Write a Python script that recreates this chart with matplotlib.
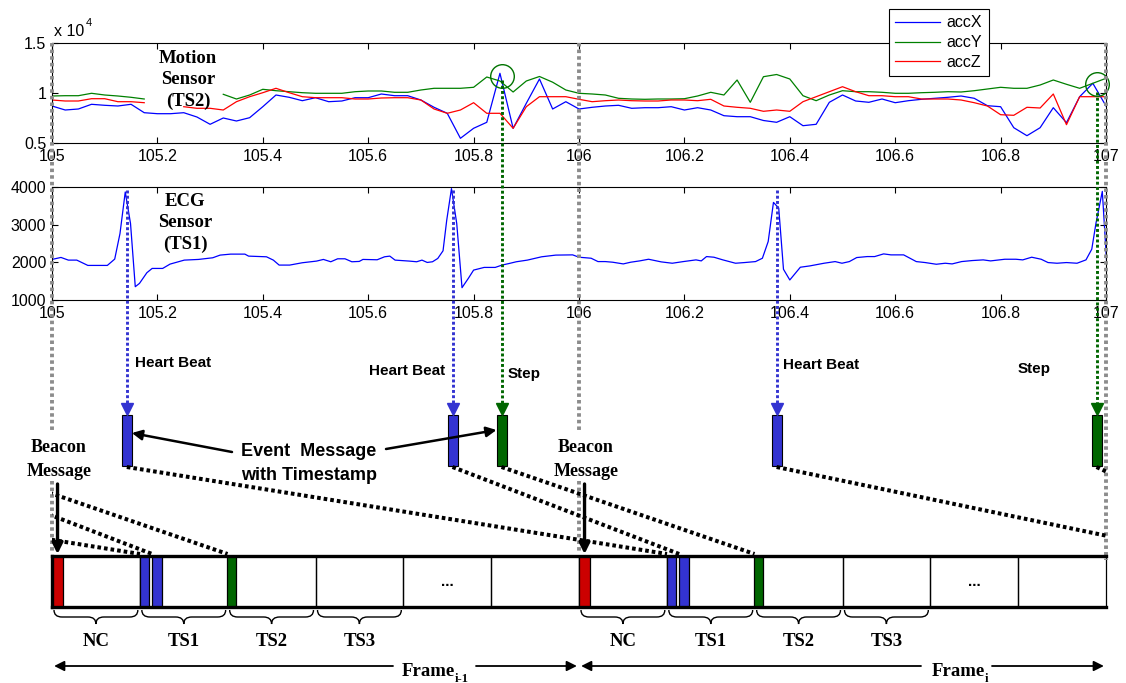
import numpy as np
import matplotlib
matplotlib.use("Agg")
import matplotlib.pyplot as plt
from matplotlib.patches import Rectangle, PathPatch
from matplotlib.path import Path

plt.rcParams['font.family'] = ['Liberation Sans', 'DejaVu Sans']

# ---------------- data ----------------
# accelerometer, one sample every 25 ms from 105 s
t_acc = 105 + 0.025 * np.arange(81)
nan = np.nan
acc_x = [8700, 8300, 8400, 8870, 8770, 8700, 8870, 8030, 7930, 7930,
         8030, 7600, 6870, 7500, 7200, 7530, 8630, 9800, 9570, 9230,
         9530, 9130, 9200, 9530, 9530, 9900, 9730, 9730, 9300, 8570,
         7970, 5470, 6470, 7070, 11970, 6470, 8970, 11400, 8400, 9130,
         8400, 8570, 8700, 8770, 8470, 8530, 8530, 8630, 8300, 8530,
         8300, 7730, 7630, 7630, 7250, 7070, 7630, 6730, 6870, 9070,
         9800, 9200, 9070, 9400, 9030, 9230, 9370, 9470, 9570, 9700,
         9470, 8730, 8630, 6530, 5730, 6530, 8530, 7030, 9630, 10970,
         8700]
acc_y = [9700, 9730, 9730, 9970, 9800, 9700, 9570, 9400, nan, nan,
         nan, nan, nan, 9870, 9400, 9800, 10370, 10230, 10130, 10030,
         9970, 9970, 9970, 10130, 10200, 10200, 10070, 10070, 10300, 10470,
         10470, 10470, 10570, 11600, 11200, 10100, 11200, 11650, 11080, 10300,
         9970, 9900, 9800, 9470, 9400, 9370, 9400, 9400, 9430, 9700,
         10070, 9800, 11300, 9070, 11630, 11850, 11400, 9730, 9230, 9800,
         10230, 10130, 10130, 10070, 9970, 9970, 10030, 10070, 10130, 10100,
         10230, 10400, 10570, 10470, 10470, 10800, 11300, 10870, 10470, 10970,
         11470]
acc_z = [9300, 9200, 9200, 9430, 9430, 9130, 9130, 9030, nan, nan,
         8630, 8470, 8470, 8300, 9130, 9630, 10030, 10470, 10030, 9630,
         9530, 9530, 9530, 9400, 9400, 9500, 9530, 9530, 9300, 8400,
         7970, 8300, 9030, 7970, 7970, 6470, 8630, 9630, 9630, 9630,
         9370, 9130, 9230, 9300, 9230, 9200, 9200, 9300, 9300, 9230,
         9370, 8700, 8570, 8470, 8170, 8300, 8170, 9130, 9630, 10130,
         10630, 10130, 9730, 9730, 9630, 9630, 9400, 9400, 9400, 9300,
         9030, 8700, 7830, 7770, 8570, 8500, 9900, 6830, 9630, 9630,
         9630]

# ECG trace (vertices)
ecg_t = [105.000, 105.017, 105.031, 105.047, 105.068, 105.105, 105.119, 105.129, 105.139, 105.149,
         105.158, 105.166, 105.180, 105.190, 105.210, 105.224, 105.251, 105.278, 105.305, 105.319,
         105.339, 105.366, 105.373, 105.407, 105.420, 105.431, 105.451, 105.475, 105.502, 105.515,
         105.529, 105.542, 105.556, 105.569, 105.583, 105.590, 105.617, 105.631, 105.641, 105.651,
         105.678, 105.692, 105.702, 105.712, 105.722, 105.732, 105.742, 105.749, 105.758, 105.768,
         105.778, 105.790, 105.800, 105.820, 105.841, 105.854, 105.868, 105.881, 105.902, 105.929,
         105.956, 105.988, 106.000, 106.023, 106.036, 106.050, 106.064, 106.084, 106.098, 106.115,
         106.132, 106.156, 106.177, 106.198, 106.222, 106.232, 106.242, 106.256, 106.273, 106.297,
         106.314, 106.335, 106.348, 106.359, 106.369, 106.379, 106.388, 106.400, 106.420, 106.438,
         106.465, 106.486, 106.499, 106.513, 106.527, 106.547, 106.561, 106.578, 106.592, 106.616,
         106.640, 106.657, 106.678, 106.695, 106.708, 106.726, 106.746, 106.767, 106.781, 106.808,
         106.829, 106.842, 106.859, 106.877, 106.890, 106.907, 106.925, 106.945, 106.962, 106.973,
         106.981, 106.993, 107.001]
ecg_v = [2077, 2130, 2059, 2059, 1918, 1918, 2086, 2765, 3868, 3030,
         1353, 1441, 1724, 1838, 1838, 1953, 2059, 2077, 2121, 2192,
         2218, 2218, 2165, 2147, 2059, 1927, 1927, 1989, 2033, 2077,
         2015, 2094, 2094, 2015, 2024, 2077, 2068, 2147, 2165, 2059,
         2033, 2015, 2059, 1997, 2015, 2103, 2306, 3118, 3957, 3030,
         1327, 1574, 1794, 1865, 1865, 1927, 1971, 2015, 2059, 2147,
         2192, 2198, 2136, 2109, 2020, 2020, 2003, 1958, 2003, 2038,
         2082, 2012, 1976, 2020, 2065, 2038, 2153, 2136, 2065, 1976,
         1994, 2020, 2109, 2553, 3591, 3440, 1816, 1532, 1870, 1905,
         1976, 2020, 1976, 2020, 2127, 2153, 2153, 2224, 2198, 2198,
         2020, 1994, 1949, 1976, 1958, 2020, 2047, 2065, 2038, 2082,
         2082, 2065, 2136, 2082, 1994, 1976, 1994, 1976, 2065, 2349,
         3041, 3884, 2065]

xticks = [105, 105.2, 105.4, 105.6, 105.8, 106, 106.2, 106.4, 106.6, 106.8, 107]
xticklabels = ['105', '105.2', '105.4', '105.6', '105.8', '106',
               '106.2', '106.4', '106.6', '106.8', '107']

# detected events
heartbeat_t = [105.142, 105.760, 106.375]
step_t = [105.853, 106.982]
step_peak = [11700, 10900]

# TDMA frames: 1 s long, 6 slots
frame_t = [105, 106]
n_slots = 6
slot_names = ['NC', 'TS1', 'TS2', 'TS3']
frame_labels = ['i-1', 'i']
beacon_slot = (0.0, 0.021)               # offset in frame, width
hb_slots = [(0.167, 0.017), (0.190, 0.018)]
step_slot = (0.333, 0.017)
# event message -> slot in next frame
links = [(104.142, 105.167), (104.760, 105.190), (104.853, 105.333),
         (105.142, 106.167), (105.760, 106.190), (105.853, 106.333),
         (106.375, 107.167), (106.982, 107.333)]

# ---------------- figure ----------------
W, H = 1126, 683
fig = plt.figure(figsize=(W / 100, H / 100), dpi=100)

BLUE = (0.2, 0.2, 0.82)
DGREEN = (0.0, 0.4, 0.0)
GREY = (0.55, 0.55, 0.55)
SERIF = 'Liberation Serif'


def px_axes(x0, y0, x1, y1):
    return fig.add_axes([x0 / W, 1 - y1 / H, (x1 - x0) / W, (y1 - y0) / H])


def matlab_style(ax):
    ax.set_xlim(105, 107)
    ax.set_xticks(xticks)
    ax.set_xticklabels(xticklabels)
    ax.tick_params(direction='in', length=4, width=0.8, top=True, right=True,
                   labelsize=11.5, pad=4)
    for s in ax.spines.values():
        s.set_linewidth(0.8)


ax1 = px_axes(52, 43, 1106, 143)
ax1.plot(t_acc, acc_x, color='b', lw=0.9, label='accX')
ax1.plot(t_acc, acc_y, color=(0, 0.5, 0), lw=0.9, label='accY')
ax1.plot(t_acc, acc_z, color='r', lw=0.9, label='accZ')
ax1.plot(step_t, step_peak, 'o', ms=17, mfc='none', mec=(0, 0.45, 0), mew=1, clip_on=False)
ax1.set_ylim(5000, 15000)
ax1.set_yticks([5000, 10000, 15000])
ax1.set_yticklabels(['0.5', '1', '1.5'])
matlab_style(ax1)
leg = ax1.legend(loc='upper left', bbox_to_anchor=(889 / W, 1 - 9 / H),
                 bbox_transform=fig.transFigure, fancybox=False, edgecolor='k',
                 framealpha=1, borderaxespad=0, handlelength=2.8, handletextpad=0.4,
                 labelspacing=0.3, borderpad=0.4, fontsize=11.5)
leg.get_frame().set_linewidth(0.8)
fig.text(54 / W, 1 - 32 / H, 'x 10', fontsize=11.5, va='center')
fig.text(86 / W, 1 - 23 / H, '4', fontsize=8, va='center')

ax2 = px_axes(52, 187, 1106, 300)
ax2.plot(ecg_t, ecg_v, color='b', lw=0.9)
ax2.set_ylim(1000, 4000)
ax2.set_yticks([1000, 2000, 3000, 4000])
matlab_style(ax2)

# ---------------- overlay: time on x, pixel rows on y ----------------
ov = fig.add_axes([0, 0, 1, 1])
sec_per_px = 2 / 1054
ov.set_xlim(105 - 52 * sec_per_px, 107 + (W - 1106) * sec_per_px)
ov.set_ylim(H, 0)
ov.axis('off')
ov.patch.set_alpha(0)


def tx(px):
    return 105 + (px - 52) * sec_per_px


grey_ls = dict(color=GREY, lw=2.8, ls=(0, (0.9, 0.8)), dash_capstyle='butt')
# frame boundaries (grey)
for f in frame_t:
    ov.plot([f, f], [43, 431], **grey_ls)
    ov.plot([f, f], [481, 552], **grey_ls)
ov.plot([107, 107], [43, 560], **grey_ls)

# event arrows and event messages
bar_w = 0.019
for t in heartbeat_t:
    ov.plot([t, t], [190, 404], color=BLUE, lw=2.1, ls=(0, (1, 0.8)))
    ov.plot(t, 409, 'v', color=BLUE, ms=8)
    ov.add_patch(Rectangle((t - bar_w / 2, 415), bar_w, 51, fc=BLUE, ec='k', lw=0.8))
for t, y0 in zip(step_t, [80, 92]):
    ov.plot([t, t], [y0, 404], color=DGREEN, lw=2.1, ls=(0, (1, 0.8)))
    ov.plot(t, 409, 'v', color=DGREEN, ms=8)
    ov.add_patch(Rectangle((t - bar_w / 2, 415), bar_w, 51, fc=DGREEN, ec='k', lw=0.8))

# dotted links message -> slot
clip = Rectangle((105, 0), 2.004, H, transform=ov.transData)
for t0, t1 in links:
    ln, = ov.plot([t0, t1], [467, 554], color='k', lw=2.9, ls=(0, (0.9, 0.75)))
    ln.set_clip_path(clip)

# frames
y_top, y_bot = 556, 607
slot_len = 1 / n_slots
for f in frame_t:
    for i in range(n_slots):
        ov.add_patch(Rectangle((f + i * slot_len, y_top), slot_len, y_bot - y_top,
                               fc='none', ec='k', lw=0.9))
    ov.add_patch(Rectangle((f + beacon_slot[0], y_top), beacon_slot[1], y_bot - y_top,
                           fc=(0.8, 0, 0), ec='k', lw=0.9))
    for off, w in hb_slots:
        ov.add_patch(Rectangle((f + off, y_top), w, y_bot - y_top, fc=BLUE, ec='k', lw=0.9))
    ov.add_patch(Rectangle((f + step_slot[0], y_top), step_slot[1], y_bot - y_top,
                           fc=DGREEN, ec='k', lw=0.9))
    ov.text(f + 4.5 * slot_len, 582, '...', ha='center', va='center',
            fontsize=11, fontweight='bold')
ov.plot([105, 107], [y_top, y_top], color='k', lw=2.4)
ov.plot([105, 107], [y_bot, y_bot], color='k', lw=2.4)
ov.plot([105, 105], [y_top, y_bot], color='k', lw=2.4)


def brace(x0, x1, y, h=13):
    r = 8 * sec_per_px
    xm = (x0 + x1) / 2
    ym = y + h / 2
    verts = [(x0, y), (x0, ym), (x0 + r, ym), (xm - r, ym), (xm, ym), (xm, y + h),
             (xm, ym), (xm + r, ym), (x1 - r, ym), (x1, ym), (x1, y)]
    codes = [Path.MOVETO, Path.CURVE3, Path.CURVE3, Path.LINETO, Path.CURVE3, Path.CURVE3,
             Path.CURVE3, Path.CURVE3, Path.LINETO, Path.CURVE3, Path.CURVE3]
    ov.add_patch(PathPatch(Path(verts, codes), fc='none', ec='k', lw=1.0))


for f in frame_t:
    for i, name in enumerate(slot_names):
        a = f + i * slot_len + 2 * sec_per_px
        b = f + (i + 1) * slot_len - 2 * sec_per_px
        brace(a, b, 610, 14)
        ov.text((a + b) / 2, 641, name, ha='center', va='center', family=SERIF,
                fontweight='bold', fontsize=13.5)

# frame length arrows
arr = dict(arrowstyle='-|>', color='k', lw=1.3, mutation_scale=15, shrinkA=0, shrinkB=0)
gaps = [(393, 476, 402), (921, 992, 932)]
for f, lab, (ga, gb, gx) in zip(frame_t, frame_labels, gaps):
    ov.annotate('', xy=(f + 0.004, 666), xytext=(tx(ga), 666), arrowprops=arr)
    ov.annotate('', xy=(f + 1 - 0.004, 666), xytext=(tx(gb), 666), arrowprops=arr)
    ov.text(tx(gx), 671, 'Frame', ha='left', va='center', family=SERIF,
            fontweight='bold', fontsize=13.5)
    ov.text(tx(gx + 53), 679, lab, ha='left', va='center', family=SERIF,
            fontweight='bold', fontsize=9)

# beacon
for f in frame_t:
    xc = f + beacon_slot[0] + beacon_slot[1] / 2
    ov.text(f + 0.013, 447, 'Beacon', ha='center', va='center', family=SERIF,
            fontweight='bold', fontsize=13)
    ov.text(f + 0.013, 471, 'Message', ha='center', va='center', family=SERIF,
            fontweight='bold', fontsize=13)
    ov.annotate('', xy=(xc, 554), xytext=(xc, 484),
                arrowprops=dict(arrowstyle='-|>', color='k', lw=2.4, mutation_scale=16,
                                shrinkA=0, shrinkB=0))

# sensor names
ov.text(tx(188), 80, 'Motion\nSensor\n(TS2)', ha='center', va='center', family=SERIF,
        fontweight='bold', fontsize=13.5, linespacing=1.32)
ov.text(tx(185), 223, 'ECG\nSensor\n(TS1)', ha='center', va='center', family=SERIF,
        fontweight='bold', fontsize=13.5, linespacing=1.32)

# event labels
ov.text(tx(135), 363, 'Heart Beat', ha='left', va='center', fontweight='bold', fontsize=11)
ov.text(tx(445), 371, 'Heart Beat', ha='right', va='center', fontweight='bold', fontsize=11)
ov.text(tx(508), 374, 'Step', ha='left', va='center', fontweight='bold', fontsize=11)
ov.text(tx(783), 365, 'Heart Beat', ha='left', va='center', fontweight='bold', fontsize=11)
ov.text(tx(1018), 369, 'Step', ha='left', va='center', fontweight='bold', fontsize=11)

ov.text(tx(309), 452, 'Event  Message', ha='center', va='center', fontweight='bold', fontsize=13)
ov.text(tx(309), 476, 'with Timestamp', ha='center', va='center', fontweight='bold', fontsize=13)
ev_arr = dict(arrowstyle='-|>', color='k', lw=1.8, mutation_scale=15, shrinkA=0, shrinkB=0)
ov.annotate('', xy=(heartbeat_t[0] + bar_w / 2, 433), xytext=(tx(232), 452), arrowprops=ev_arr)
ov.annotate('', xy=(step_t[0] - bar_w / 2, 430), xytext=(tx(386), 449), arrowprops=ev_arr)

fig.savefig('out.png', dpi=100)
